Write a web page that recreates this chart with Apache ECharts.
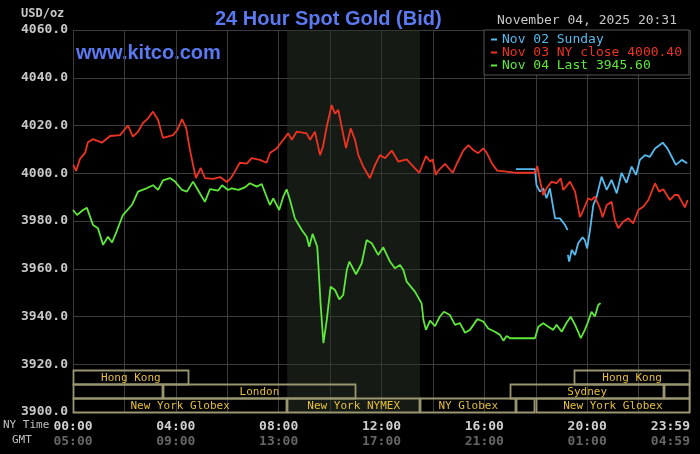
<!DOCTYPE html>
<html lang="en">
<head>
    <meta charset="UTF-8">
    <title>24 Hour Spot Gold (Bid)</title>
    <style>
        html, body { margin: 0; padding: 0; background: #000; }
        #container { width: 700px; height: 454px; }
    </style>
</head>
<body>
    <div id="container"></div>
    <script type="text/javascript" src="https://fastly.jsdelivr.net/npm/echarts@6.0.0/dist/echarts.min.js"></script>
    <script type="text/javascript">
        // 数据 (NY time in hours, price in USD/oz)
        const redT = [0.01,0.12,0.27,0.47,0.58,0.78,1.12,1.44,1.83,2.14,2.33,2.53,2.72,2.92,3.11,3.31,3.50,3.89,4.05,4.24,4.40,4.55,4.67,4.78,4.97,5.13,5.45,5.72,5.99,6.11,
            6.22,6.49,6.76,6.95,7.27,7.53,7.66,7.92,8.12,8.37,8.51,8.70,9.09,9.22,9.41,9.61,9.72,9.87,10.06,10.19,10.32,10.45,10.62,10.80,10.97,11.10,11.29,11.55,11.75,11.94,
            12.14,12.40,12.65,12.98,13.24,13.47,13.73,13.89,13.99,14.11,14.21,14.47,14.77,14.95,15.18,15.38,15.57,15.76,15.96,16.09,16.29,16.50,16.87,17.26,17.97,18.06,18.16,
            18.29,18.42,18.62,18.81,18.97,19.07,19.33,19.53,19.72,19.85,20.04,20.17,20.30,20.50,20.60,20.76,20.95,21.08,21.21,21.40,21.60,21.79,21.99,22.18,22.38,22.64,22.80,22.96,23.22,23.41,23.54,23.68,23.80,23.91];
        const redP = [4003.5,4001.0,4006.0,4008.5,4013.0,4014.3,4012.8,4015.6,4016.0,4020.0,4015.3,4017.4,4021.0,4023.0,4025.8,4022.3,4014.8,4016.0,4018.0,4022.7,4019.0,4009.7,4003.5,3998.0,4002.2,3998.0,3997.6,3998.4,3996.3,3997.6,
            3999.3,4004.4,4004.0,4006.3,4005.6,4004.4,4008.5,4010.4,4013.2,4016.7,4014.0,4017.4,4016.7,4014.0,4017.4,4007.6,4011.0,4019.5,4028.6,4025.0,4026.5,4019.5,4010.5,4018.8,4014.0,4007.6,4002.8,3997.9,4003.5,4007.6,
            4006.3,4009.5,4004.9,4005.8,4002.8,4000.2,4007.2,4004.9,4005.8,3999.3,4001.1,4003.9,4000.2,4004.4,4009.5,4011.8,4009.7,4008.4,4010.4,4008.6,4004.2,4001.1,4000.7,4000.2,4000.2,4003.0,3997.2,
            3990.9,3993.7,3996.5,3995.8,3997.9,3993.0,3996.5,3992.3,3981.6,3984.6,3989.5,3988.8,3990.2,3985.3,3981.6,3986.7,3988.1,3980.4,3977.0,3979.7,3981.1,3979.0,3984.6,3986.0,3988.8,3995.8,3992.3,3993.3,3988.8,3990.9,3990.9,3988.1,3985.7,3988.8];

        const greenT = [0,0.16,0.39,0.54,0.78,0.97,1.17,1.36,1.52,1.71,1.94,2.29,2.53,2.88,3.11,3.31,3.50,3.77,3.97,4.24,4.43,4.67,4.86,5.13,5.33,5.64,5.80,6.03,
            6.17,6.43,6.69,6.88,7.15,7.34,7.53,7.66,7.79,8.02,8.18,8.31,8.44,8.63,8.90,9.09,9.19,9.32,9.50,9.54,9.63,9.74,9.87,10.02,10.19,10.36,10.51,10.65,10.75,11.01,11.23,11.42,11.62,
            11.87,12.07,12.33,12.52,12.72,12.85,12.98,13.30,13.56,13.63,13.73,13.89,14.08,14.27,14.43,14.66,14.86,15.05,15.25,15.44,15.73,15.96,16.15,16.41,16.61,16.74,16.87,17.00,17.97,
            18.10,18.29,18.49,18.68,18.81,19.01,19.20,19.36,19.53,19.65,19.75,19.91,20.04,20.17,20.30,20.43,20.52];
        const greenP = [3984.6,3982.5,3984.6,3985.5,3978.3,3977.0,3970.0,3973.4,3971.0,3976.0,3982.5,3986.7,3992.3,3993.8,3995.0,3993.0,3997.0,3998.0,3996.5,3993.0,3992.3,3996.5,3993.0,3988.0,3993.4,3992.7,3995.0,3993.0,
            3993.7,3993.0,3994.1,3995.8,3994.4,3995.5,3990.2,3986.7,3989.5,3984.6,3990.2,3993.3,3988.8,3981.1,3976.2,3973.4,3969.2,3974.6,3969.2,3962.3,3945.5,3928.8,3938.5,3952.5,3951.1,3947.2,3949.0,3959.5,3963.0,3957.7,3962.3,3972.0,3970.7,
            3965.8,3969.0,3963.0,3960.2,3961.6,3959.5,3954.6,3950.4,3945.5,3938.6,3934.4,3938.3,3936.0,3940.0,3942.0,3940.6,3936.5,3937.2,3933.2,3934.4,3938.9,3937.9,3935.0,3933.6,3932.3,3929.9,3931.8,3930.9,3930.9,
            3935.7,3937.2,3935.7,3934.4,3936.5,3933.6,3937.4,3939.9,3936.5,3933.6,3930.9,3934.4,3937.9,3942.0,3940.0,3944.8,3945.6];

        const blueT = [17.23,17.97,18.03,18.16,18.29,18.42,18.55,18.75,18.94,19.14,19.24,19.245,19.25,19.30,19.40,19.53,19.65,19.82,19.91,20.00,
            20.11,20.24,20.37,20.56,20.76,20.95,21.15,21.34,21.53,21.73,21.90,22.05,22.25,22.44,22.64,22.94,23.12,23.29,23.45,23.68,23.89];
        const blueP = [4001.7,4001.7,3995.0,3992.3,3993.7,3989.5,3993.7,3981.1,3981.1,3978.3,3976.2,null,3965.8,3963.0,3967.9,3965.8,3970.7,3973.2,3972.0,3968.5,
            3976.2,3986.7,3990.2,3998.6,3993.0,3997.2,3991.6,4000.2,3996.0,4002.8,3999.3,4005.6,4007.6,4006.9,4010.4,4012.8,4010.4,4006.9,4003.5,4005.6,4004.2];

        const seriesNames = ['Nov 02 Sunday', 'Nov 03 NY close 4000.40', 'Nov 04 Last 3945.60'];
        const seriesColors = ['#55bbee', '#ee3322', '#5ee83a'];

        const nyTicks = ['00:00', '04:00', '08:00', '12:00', '16:00', '20:00', '23:59'];
        const gmtTicks = ['05:00', '09:00', '13:00', '17:00', '21:00', '01:00', '04:59'];

        // 交易时段
        const sessionNames = ['Hong Kong', '', 'London', 'New York Globex', 'New York NYMEX', 'NY Globex', '', 'Sydney', '', 'New York Globex', 'Hong Kong'];
        const sessionRow   = [0, 1, 1, 2, 2, 2, 2, 1, 1, 2, 0];
        const sessionStart = [0, 0, 3.5, 0, 8.333, 13.5, 17.25, 17, 23, 18, 19.5];
        const sessionEnd   = [4.5, 3.5, 11, 8.333, 13.5, 17.25, 18, 23, 24, 24, 24];
        const nymexStart = 8.333, nymexEnd = 13.5;

        const mono = '"DejaVu Sans Mono", monospace';
        const zip = (t, p) => t.map((v, i) => [v, p[i] == null ? '-' : p[i]]);
        const seriesData = [zip(blueT, blueP), zip(redT, redP), zip(greenT, greenP)];

        function renderSession(params, api) {
            const i = params.dataIndex;
            const p0 = api.coord([api.value(0), api.value(1)]);
            const p1 = api.coord([api.value(2), api.value(1)]);
            const rowH = 14;
            const top = p0[1] - (3 - sessionRow[i]) * rowH;
            return {
                type: 'group',
                children: [
                    {
                        type: 'rect',
                        shape: { x: Math.round(p0[0]) + 0.5, y: Math.round(top) + 0.5, width: Math.round(p1[0] - p0[0]) - 1, height: rowH },
                        style: { fill: null, stroke: '#9a9670', lineWidth: 1.8 }
                    },
                    {
                        type: 'text',
                        style: {
                            text: sessionNames[i], x: (p0[0] + p1[0]) / 2, y: top + rowH / 2 + 1,
                            align: 'center', verticalAlign: 'middle', fill: '#e6bf3a', font: '11px ' + mono
                        }
                    }
                ]
            };
        }

        const option = {
            backgroundColor: '#000',
            animation: false,
            title: {
                text: '24 Hour Spot Gold (Bid)',
                left: 210, top: 4,
                textStyle: { color: '#5b79f0', fontFamily: '"Liberation Sans", Arial, sans-serif', fontWeight: 'bold', fontSize: 20 }
            },
            legend: {
                orient: 'vertical',
                left: 484, top: 30,
                padding: [3, 7, 3, 7],
                itemGap: 0,
                icon: 'rect', itemWidth: 6, itemHeight: 2,
                selectedMode: false,
                backgroundColor: '#000', borderColor: '#555', borderWidth: 1,
                textStyle: { fontFamily: mono, fontSize: 13, lineHeight: 13 },
                data: seriesNames.map((n, i) => ({ name: n, textStyle: { color: seriesColors[i] } }))
            },
            graphic: [
                { type: 'text', left: 497, top: 14, style: { text: 'November 04, 2025 20:31', fill: '#c8c8c8', font: '13px ' + mono } },
                { type: 'text', left: 21, top: 8, style: { text: 'USD/oz', fill: '#c8c8c8', font: 'bold 12px ' + mono } },
                { type: 'text', left: 76, top: 43, style: { text: 'www.kitco.com', fill: '#5a78f0', font: 'bold 20px "Liberation Sans", Arial, sans-serif' } },
                { type: 'text', left: 3, top: 420, style: { text: 'NY Time', fill: '#c0c0c0', font: '11px ' + mono } },
                { type: 'text', left: 12, top: 435, style: { text: 'GMT', fill: '#c0c0c0', font: '11px ' + mono } }
            ],
            grid: { left: 73, top: 30, right: 10, bottom: 42 },
            xAxis: {
                type: 'value', min: 0, max: 24, interval: 2,
                axisLine: { show: true, lineStyle: { color: '#3c3c3c' } },
                axisTick: { show: false },
                splitLine: { show: true, lineStyle: { color: '#3c3c3c', width: 1 } },
                axisLabel: {
                    margin: 7,
                    showMaxLabel: true,
                    alignMaxLabel: 'right',
                    formatter: v => v % 4 === 0 ? '{t|' + nyTicks[v / 4] + '}\n{g|' + gmtTicks[v / 4] + '}' : '',
                    rich: {
                        t: { color: '#d0d0d0', fontFamily: mono, fontWeight: 'bold', fontSize: 13, lineHeight: 15 },
                        g: { color: '#666', fontFamily: mono, fontWeight: 'bold', fontSize: 13, lineHeight: 15 }
                    }
                }
            },
            yAxis: {
                type: 'value', min: 3900, max: 4060, interval: 20,
                axisLine: { show: true, lineStyle: { color: '#3c3c3c' } },
                axisTick: { show: false },
                splitLine: { show: true, lineStyle: { color: '#3c3c3c', width: 1 } },
                axisLabel: {
                    margin: 5, color: '#c8c8c8', fontFamily: mono, fontWeight: 'bold', fontSize: 13,
                    formatter: v => v.toFixed(1)
                }
            },
            series: [
                {
                    type: 'line', data: [], silent: true,
                    markArea: {
                        silent: true,
                        itemStyle: { color: 'rgba(44,52,40,0.5)' },
                        data: [[{ xAxis: nymexStart }, { xAxis: nymexEnd }]]
                    }
                }
            ].concat(seriesNames.map((n, i) => ({
                name: n,
                type: 'line',
                data: seriesData[i],
                showSymbol: false,
                symbol: 'rect',
                connectNulls: false,
                lineStyle: { color: seriesColors[i], width: 1.8 },
                itemStyle: { color: seriesColors[i] }
            }))).concat([{
                type: 'custom',
                silent: true,
                renderItem: renderSession,
                encode: { x: [0, 2], y: 1 },
                data: sessionStart.map((s, i) => [s, 3900, sessionEnd[i]])
            }])
        };

        var chart = echarts.init(document.getElementById('container'));
        chart.setOption(option);
    </script>
</body>
</html>
